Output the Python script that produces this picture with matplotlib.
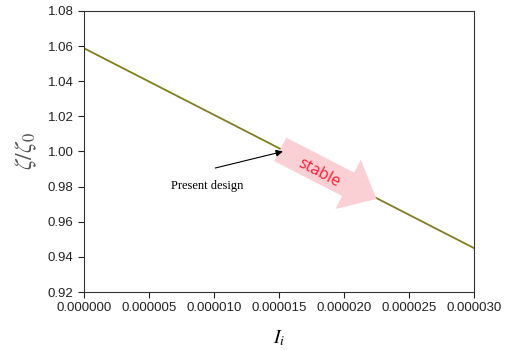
import matplotlib
matplotlib.use("Agg")
import matplotlib.pyplot as plt
from matplotlib.ticker import MultipleLocator, FormatStrFormatter

# data
I_i = [0.0, 0.000030]
zeta_ratio = [1.0588, 0.9450]
present_x, present_y = 0.0000153, 1.0000
stable_tail = (0.0000151, 1.0012)
stable_tip = (0.0000225, 0.9730)

plt.rcParams["font.family"] = ["Liberation Sans", "DejaVu Sans"]
plt.rcParams["mathtext.fontset"] = "stix"

fig = plt.figure(figsize=(5.13, 3.5), dpi=100)
ax = fig.add_axes([0.1637, 0.1657, 0.7603, 0.8029])

ax.plot(I_i, zeta_ratio, color="#7f7f1f", lw=1.3)

ax.set_xlim(0, 0.000030)
ax.set_ylim(0.92, 1.08)
ax.xaxis.set_major_locator(MultipleLocator(0.000005))
ax.yaxis.set_major_locator(MultipleLocator(0.02))
ax.xaxis.set_major_formatter(FormatStrFormatter("%.6f"))
ax.yaxis.set_major_formatter(FormatStrFormatter("%.2f"))
ax.tick_params(direction="out", length=4, width=0.8, labelsize=9.5, colors="#222222")
for s in ax.spines.values():
    s.set_linewidth(0.8)
    s.set_color("#333333")

ax.set_xlabel(r"$I_i$", fontsize=14, labelpad=10)
ax.set_ylabel(r"$\zeta/\zeta_{\mathit{0}}$", fontsize=17, labelpad=6, color="#555555")

# big pink "stable" arrow
ax.annotate("", xy=stable_tip, xytext=stable_tail,
            arrowprops=dict(arrowstyle="simple,head_length=2.3,head_width=4.0,tail_width=1.9",
                            mutation_scale=10, fc="#fbd0d5", ec="none", shrinkA=0, shrinkB=0))
ax.text(0.0000181, 0.9878, "stable", color="#ff1a2e", fontsize=11.5,
        rotation=-28, ha="center", va="center", family=["Open Sans", "DejaVu Sans"])

# present design pointer
ax.annotate("", xy=(present_x, present_y), xytext=(0.0000101, 0.9906),
            arrowprops=dict(arrowstyle="-|>", color="black", lw=0.8,
                            mutation_scale=10, shrinkA=0, shrinkB=0))
ax.text(0.0000095, 0.9802, "Present design", fontsize=9, ha="center", va="center",
        family=["Liberation Serif", "DejaVu Serif"])

fig.savefig("out.png", dpi=100)
